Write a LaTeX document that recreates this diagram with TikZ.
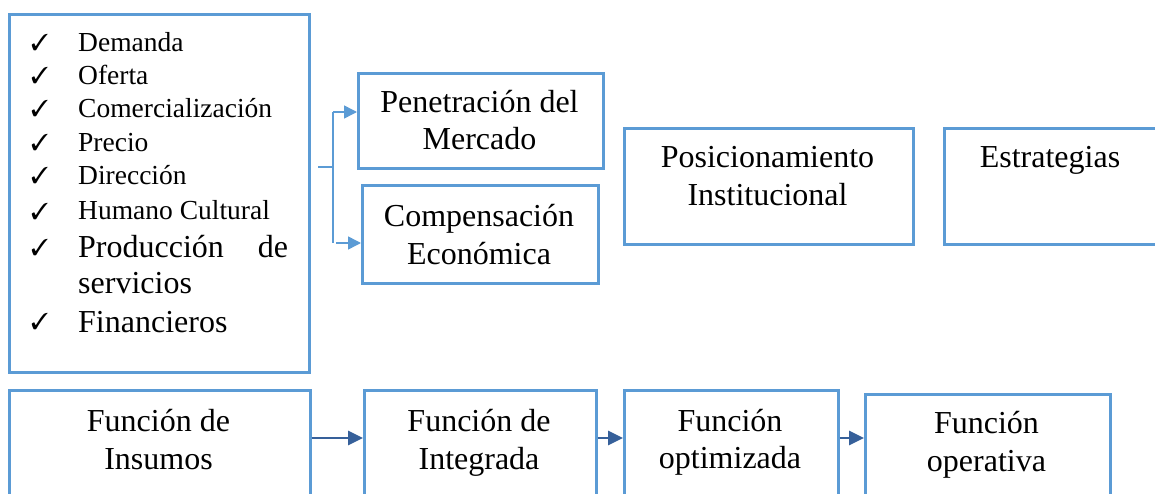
\documentclass[tikz,border=0pt]{standalone}
\usepackage{fontspec}
\setmainfont{Liberation Serif}
\usepackage{pifont}
\usetikzlibrary{arrows.meta}
\definecolor{boxblue}{HTML}{5B9BD5}
\definecolor{arrblue}{HTML}{36609A}
\begin{document}
\begin{tikzpicture}[x=1pt,y=-1pt,
  box/.style={draw=boxblue, line width=2.6pt, inner sep=0pt, anchor=north west},
  big/.style={font=\fontsize{32}{37}\selectfont, anchor=base, inner sep=0pt},
  bigw/.style={font=\fontsize{32}{37}\selectfont, anchor=base west, inner sep=0pt},
  small/.style={font=\fontsize{27.5}{33}\selectfont, anchor=base west, inner sep=0pt},
  chk/.style={font=\fontsize{23}{23}\selectfont, anchor=base west, inner sep=0pt},
  thinline/.style={draw=boxblue, line width=1.1pt},
  thinarr/.style={draw=boxblue, line width=1.5pt, -{Triangle[length=13pt,width=13pt]}},
  thickarr/.style={draw=arrblue, line width=2.6pt, -{Triangle[length=15pt,width=14pt]}},
]
\useasboundingbox (0,0) rectangle (1155,494);
\clip (0,0) rectangle (1155,494);

% boxes
\node[box, minimum width=300, minimum height=358] (list) at (8,13) {};
\node[box, minimum width=245, minimum height=95] (pen) at (357,72) {};
\node[box, minimum width=236, minimum height=98] (comp) at (361,184) {};
\node[box, minimum width=289, minimum height=116] (pos) at (623,127) {};
\node[box, minimum width=215, minimum height=116] (est) at (943,127) {};
\node[box, minimum width=301, minimum height=120] (f1) at (8,389) {};
\node[box, minimum width=232, minimum height=120] (f2) at (363,389) {};
\node[box, minimum width=214, minimum height=120] (f3) at (623,389) {};
\node[box, minimum width=245, minimum height=120] (f4) at (864,393) {};

% list text
\node[chk] (c1) at (31,51) {\ding{51}};
\node[small] (t1) at (78,52) {Demanda};
\node[chk] (c2) at (31,84) {\ding{51}};
\node[small] (t2) at (78,85) {Oferta};
\node[chk] (c3) at (31,117) {\ding{51}};
\node[small] (t3) at (78,118) {Comercialización};
\node[chk] (c4) at (31,151) {\ding{51}};
\node[small] (t4) at (78,152) {Precio};
\node[chk] (c5) at (31,184) {\ding{51}};
\node[small] (t5) at (78,185) {Dirección};
\node[chk] (c6) at (31,219) {\ding{51}};
\node[small] (t6) at (78,220) {Humano Cultural};
\node[chk] (c7) at (31,255) {\ding{51}};
\node[bigw] (t7) at (78,258) {\hbox to 210pt{Producción\hfill de}};
\node[bigw] (t8) at (78,293) {servicios};
\node[chk] (c9) at (31,329) {\ding{51}};
\node[bigw] (t9) at (78,332) {Financieros};

% box texts
\node[big] (pen1) at (479.5,113) {Penetración del};
\node[big] (pen2) at (479.5,150) {Mercado};
\node[big] (comp1) at (479,226) {Compensación};
\node[big] (comp2) at (479,264) {Económica};
\node[big] (pos1) at (767.5,168) {Posicionamiento};
\node[big] (pos2) at (767.5,206) {Institucional};
\node[big] (est1) at (1050,168) {Estrategias};
\node[big] (f1a) at (158.5,431) {Función de};
\node[big] (f1b) at (158.5,469) {Insumos};
\node[big] (f2a) at (479,431) {Función de};
\node[big] (f2b) at (479,469) {Integrada};
\node[big] (f3a) at (730,431) {Función};
\node[big] (f3b) at (730,468) {optimizada};
\node[big] (f4a) at (986.5,433) {Función};
\node[big] (f4b) at (986.5,471) {operativa};

% top connectors
\coordinate (stub) at (318,167);
\coordinate (j) at (333,167);
\coordinate (jt) at (333,112);
\coordinate (jb) at (333,243);
\draw[thinline] (stub) -- (j);
\draw[thinline] (jt) -- (jb);
\draw[thinarr] (jt) -- (pen.west |- jt);
\draw[thinarr] ([xshift=3pt]jb) -- (comp.west |- jb);

% bottom connectors
\coordinate (ay) at (0,438);
\draw[thickarr] (f1.east |- ay) -- (f2.west |- ay);
\draw[thickarr] (f2.east |- ay) -- (f3.west |- ay);
\draw[thickarr] (f3.east |- ay) -- (f4.west |- ay);
\end{tikzpicture}
\end{document}
